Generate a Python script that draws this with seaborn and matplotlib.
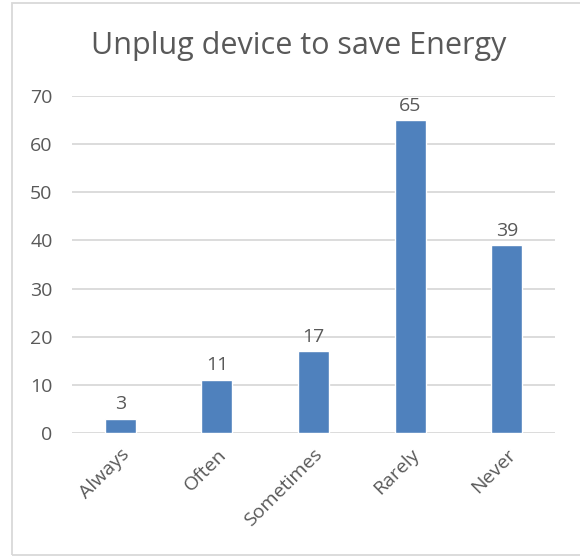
import matplotlib
matplotlib.use("Agg")
import matplotlib.pyplot as plt
import seaborn as sns
import pandas as pd
from matplotlib.patches import Rectangle

categories = ["Always", "Often", "Sometimes", "Rarely", "Never"]
counts = [3, 11, 17, 65, 39]
y_ticks = [0, 10, 20, 30, 40, 50, 60, 70]
title = "Unplug device to save Energy"

bar_color = "#4F81BD"
text_color = "#595959"
grid_color = "#D9D9D9"

sns.set_theme(style="white")
plt.rcParams["font.family"] = ["Open Sans", "DejaVu Sans"]

df = pd.DataFrame({"category": categories, "count": counts})

fig = plt.figure(figsize=(5.8, 5.56), dpi=100)
ax = fig.add_axes([72 / 580, 1 - 433 / 556, (555 - 72) / 580, (433 - 96) / 556])

sns.barplot(data=df, x="category", y="count", color=bar_color, width=0.32,
            saturation=1, ax=ax, zorder=3)

ax.set_ylim(0, 70)
ax.set_yticks(y_ticks)
ax.set_yticklabels([str(t) for t in y_ticks], fontsize=14, color=text_color)
ax.yaxis.grid(True, color=grid_color, linewidth=1.3, zorder=0)
ax.set_axisbelow(True)
for side in ["top", "right", "left", "bottom"]:
    ax.spines[side].set_visible(False)
ax.tick_params(axis="y", length=0, pad=14)
ax.tick_params(axis="x", length=0, pad=9)
ax.set_xlabel("")
ax.set_ylabel("")

plt.setp(ax.get_xticklabels(), rotation=45, ha="right", rotation_mode="anchor",
         fontsize=14, color=text_color)

for i, v in enumerate(counts):
    ax.annotate(str(v), (i, v), xytext=(0, 4), textcoords="offset points",
                ha="center", va="bottom", fontsize=14, color=text_color)

fig.text(0.515, 1 - 46 / 556, title, ha="center", va="center",
         fontsize=22, color=text_color)

fig.patches.append(Rectangle((12 / 580, 1 - 555 / 556), 1, 552 / 556,
                             transform=fig.transFigure, fill=False,
                             edgecolor=grid_color, linewidth=1.3))

fig.savefig("out.png", dpi=100, facecolor="white")
